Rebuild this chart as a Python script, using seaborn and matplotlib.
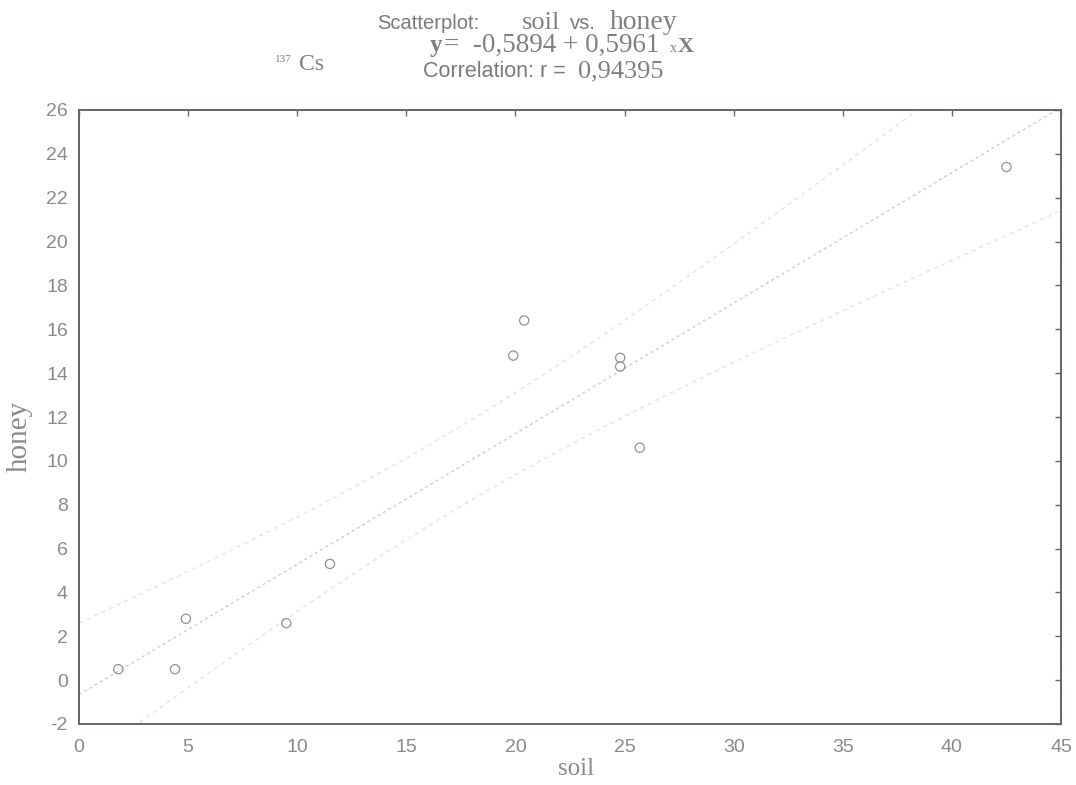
import numpy as np
import pandas as pd
import matplotlib
matplotlib.use("Agg")
import matplotlib.pyplot as plt
import seaborn as sns

# ---- data ----
soil = [1.8, 4.4, 4.9, 9.5, 11.5, 19.9, 20.4, 24.8, 24.8, 25.7, 42.5]
honey = [0.5, 0.5, 2.8, 2.6, 5.3, 14.8, 16.4, 14.7, 14.3, 10.6, 23.4]
x_ticks = list(range(0, 46, 5))
y_ticks = list(range(-2, 27, 2))

sns.set_theme(style="white")
plt.rcParams['font.family'] = ['Liberation Sans', 'DejaVu Sans']
plt.rcParams['axes.unicode_minus'] = False

W, H = 1076, 785
fig = plt.figure(figsize=(W / 100, H / 100), dpi=100)
ax = fig.add_axes([79 / W, 1 - 724 / H, (1061 - 79) / W, (724 - 110) / H])

df = pd.DataFrame({"soil": soil, "honey": honey})

ax.set_xlim(0, 45)
ax.set_ylim(-2, 26)

# regression line
sns.regplot(data=df, x="soil", y="honey", ax=ax, scatter=False, ci=None,
            truncate=False,
            line_kws=dict(color="#d2d2d2", lw=1.1, ls=(0, (2, 2))))

# 95% confidence bands for the mean (computed from the data)
xa = np.asarray(soil, float)
ya = np.asarray(honey, float)
n = len(xa)
b1, b0 = np.polyfit(xa, ya, 1)
resid = ya - (b0 + b1 * xa)
s = np.sqrt(np.sum(resid ** 2) / (n - 2))
sxx = np.sum((xa - xa.mean()) ** 2)
grid = np.linspace(0, 45, 200)
se = s * np.sqrt(1 / n + (grid - xa.mean()) ** 2 / sxx)
tval = 2.262
fit = b0 + b1 * grid
band = pd.DataFrame({"x": np.concatenate([grid, grid]),
                     "y": np.concatenate([fit + tval * se, fit - tval * se]),
                     "which": ["upper"] * len(grid) + ["lower"] * len(grid)})
for w in ["upper", "lower"]:
    sns.lineplot(data=band[band["which"] == w], x="x", y="y", ax=ax,
                 color="#e4e4e4", lw=1.0, ls=(0, (3, 3)), legend=False)

# points
sns.scatterplot(data=df, x="soil", y="honey", ax=ax, marker="o",
                facecolor="none", edgecolor="#929292", s=44, linewidth=0.9,
                zorder=5)

ax.set_xlim(0, 45)
ax.set_ylim(-2, 26)
ax.set_xticks(x_ticks)
ax.set_yticks(y_ticks)
ax.tick_params(axis="both", direction="in", top=True, right=True, length=4,
               width=1, color="#5f6672", labelcolor="#8a8a8a", labelsize=14)
ax.tick_params(axis="x", pad=11)
ax.tick_params(axis="y", pad=8)
for sp in ax.spines.values():
    sp.set_color("#5f6672")
    sp.set_linewidth(1.4)

ax.set_xlabel("soil", family="Liberation Serif", fontsize=18, color="#8a8a8a")
ax.set_ylabel("honey", family="Liberation Serif", fontsize=21, color="#8a8a8a")
ax.xaxis.set_label_coords((576 - 79) / (1061 - 79), -(783 - 724) / (724 - 110) + 0.005)
ax.xaxis.label.set_va("bottom")
ax.yaxis.set_label_coords(-(79 - 33) / (1061 - 79), (724 - 436) / (724 - 110))


def ftext(px, py, s, **kw):
    fig.text(px / W, 1 - py / H, s, va="baseline", ha="left", **kw)


sans = dict(family=["Liberation Sans", "DejaVu Sans"], color="#7a7a7a")
serif = dict(family=["Liberation Serif", "DejaVu Serif"], color="#808080")

ftext(377, 29, "Scatterplot:", fontsize=14.5, **sans)
ftext(522, 29, "soil", fontsize=19, **serif)
ftext(570, 29, "vs.", fontsize=14.5, **sans)
ftext(610, 29, "honey", fontsize=20, **serif)

ftext(430, 52, "y", fontsize=18, fontweight="bold", **serif)
ftext(444, 52, "=  -0,5894 + 0,5961", fontsize=19.5, **serif)
ftext(670, 52, "x", fontsize=10, **serif)
ftext(678, 52, "X", fontsize=16, fontweight="bold", **serif)

ftext(423, 77, "Correlation: r =", fontsize=15.5, **sans)
ftext(578, 77, "0,94395", fontsize=19, **serif)

ftext(275, 62, "137", fontsize=8, **serif)
ftext(299, 70, "Cs", fontsize=17, **serif)

fig.savefig("out.png", dpi=100, facecolor="white")
